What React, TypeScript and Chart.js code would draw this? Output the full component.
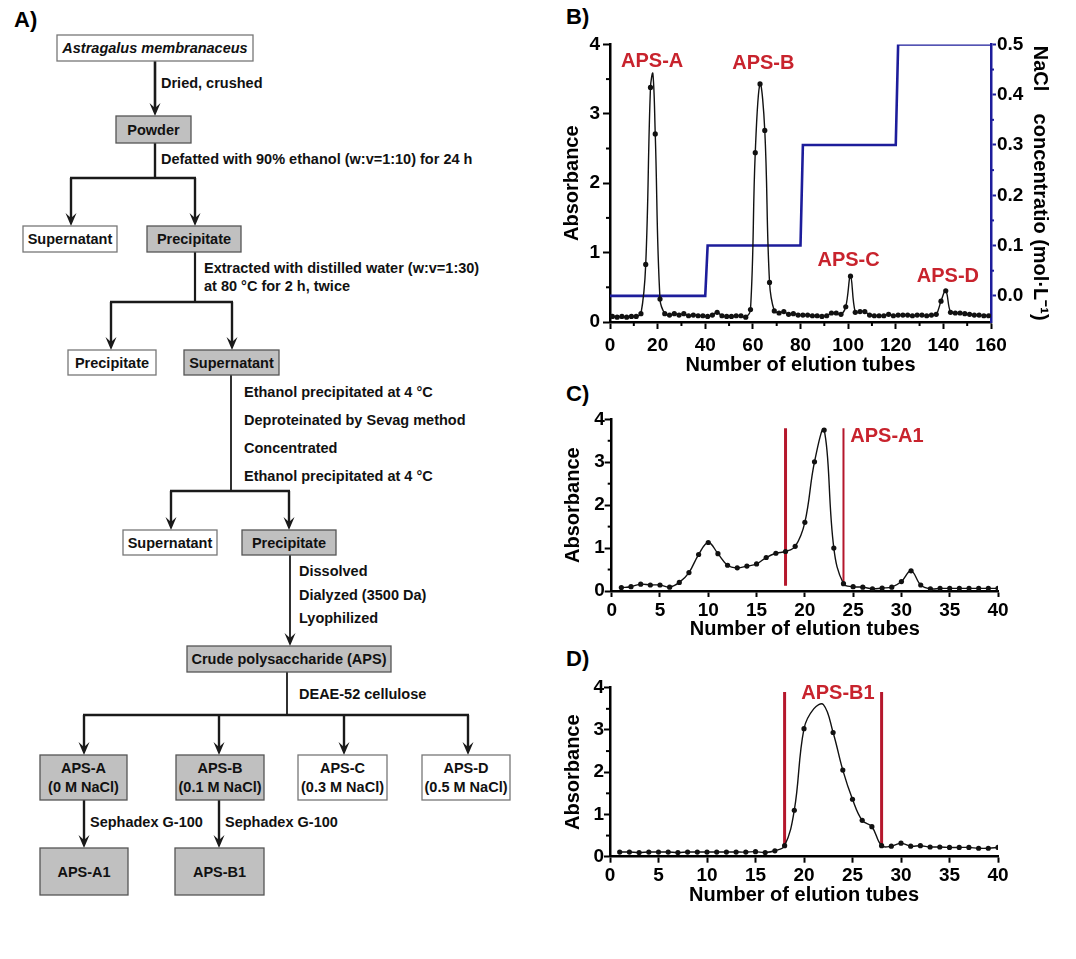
import React, { useEffect, useRef } from 'react';
import { Chart, registerables } from 'chart.js';

Chart.register(...registerables);

const FONT = "'Liberation Sans', Arial, Helvetica, sans-serif";

// ---------------- Panel B data ----------------
const tubesB = [1,3,5,7,9,11,13,15,17,18,19,21,23,25,27,29,31,33,35,37,39,41,43,45,47,49,51,53,55,57,59,61,63,65,67,69,71,73,75,77,79,81,83,85,87,89,91,93,95,97,99,101,103,105,107,109,111,113,115,117,119,121,123,125,127,129,131,133,135,137,139,141,143,145,147,149,151,153,155,157,159];
const absB = [0.08,0.07,0.08,0.07,0.08,0.08,0.12,0.83,3.38,3.58,2.71,0.33,0.12,0.10,0.12,0.10,0.12,0.09,0.10,0.09,0.09,0.08,0.10,0.14,0.09,0.08,0.08,0.09,0.09,0.07,0.18,2.44,3.43,2.76,0.57,0.16,0.13,0.15,0.11,0.12,0.10,0.10,0.10,0.09,0.09,0.08,0.09,0.13,0.13,0.11,0.22,0.66,0.14,0.15,0.15,0.10,0.09,0.09,0.09,0.11,0.09,0.10,0.10,0.10,0.09,0.10,0.10,0.09,0.10,0.11,0.30,0.45,0.14,0.13,0.13,0.12,0.11,0.10,0.10,0.09,0.09];
const unmarkedB = [18];
const naclTubes = [0, 40, 41, 80, 81, 120, 121, 160];
const naclConc = [0, 0, 0.1, 0.1, 0.3, 0.3, 0.5, 0.5];
const naclTicks = [0, 0.1, 0.2, 0.3, 0.4, 0.5];
const peakNamesB = ['APS-A', 'APS-B', 'APS-C', 'APS-D'];
const peakXB = [17.7, 64.4, 100.2, 141.9];
const peakYB = [3.76, 3.73, 0.89, 0.66];

// ---------------- Panel C data ----------------
const tubesC = [1,2,3,4,5,6,7,8,9,10,11,12,13,14,15,16,17,18,19,20,21,22,23,24,25,26,27,28,29,30,31,32,33,34,35,36,37,38,39,40];
const absC = [0.08,0.10,0.16,0.14,0.14,0.09,0.20,0.43,0.85,1.13,0.87,0.60,0.54,0.58,0.63,0.78,0.88,0.92,1.04,1.60,3.01,3.75,1.00,0.17,0.10,0.09,0.05,0.07,0.09,0.22,0.47,0.14,0.05,0.06,0.06,0.06,0.06,0.06,0.06,0.06];
const cutTubesC = [18, 24];
const cutLowC = 0.12;
const cutHighC = 3.79;
const peakNamesC = ['APS-A1'];
const peakXC = [28.5];
const peakYC = [3.6];

// ---------------- Panel D data ----------------
const tubesD = [1,2,3,4,5,6,7,8,9,10,11,12,13,14,15,16,17,18,19,20,21,22,23,24,25,26,27,28,29,30,31,32,33,34,35,36,37,38,39,40];
const absD = [0.11,0.11,0.10,0.11,0.11,0.11,0.10,0.11,0.11,0.11,0.11,0.11,0.11,0.11,0.12,0.10,0.14,0.26,1.10,3.03,3.50,3.60,2.94,2.05,1.36,0.86,0.71,0.26,0.25,0.32,0.25,0.26,0.23,0.23,0.22,0.22,0.22,0.20,0.20,0.22];
const unmarkedD = [21, 22];
const cutTubesD = [18, 28];
const cutLowD = 0.24;
const cutHighD = 3.9;
const peakNamesD = ['APS-B1'];
const peakXD = [23.5];
const peakYD = [3.87];

// ---------------- Flowchart (panel A) ----------------
type Box = { x: number; y: number; w: number; h: number; fill: boolean; lines: string[]; italic?: boolean };
const flowBoxes: Box[] = [
  { x: 57, y: 35, w: 196, h: 26, fill: false, lines: ['Astragalus membranaceus'], italic: true },
  { x: 116, y: 116, w: 75, h: 27, fill: true, lines: ['Powder'] },
  { x: 23, y: 226, w: 94, h: 26, fill: false, lines: ['Supernatant'] },
  { x: 147, y: 226, w: 94, h: 26, fill: true, lines: ['Precipitate'] },
  { x: 68, y: 350, w: 88, h: 25, fill: false, lines: ['Precipitate'] },
  { x: 184, y: 350, w: 95, h: 25, fill: true, lines: ['Supernatant'] },
  { x: 123, y: 530, w: 94, h: 25, fill: false, lines: ['Supernatant'] },
  { x: 242, y: 530, w: 94, h: 25, fill: true, lines: ['Precipitate'] },
  { x: 187, y: 646, w: 204, h: 26, fill: true, lines: ['Crude polysaccharide (APS)'] },
  { x: 40, y: 755, w: 87, h: 45, fill: true, lines: ['APS-A', '(0 M NaCl)'] },
  { x: 176, y: 755, w: 88, h: 45, fill: true, lines: ['APS-B', '(0.1 M NaCl)'] },
  { x: 298, y: 755, w: 89, h: 45, fill: false, lines: ['APS-C', '(0.3 M NaCl)'] },
  { x: 422, y: 755, w: 88, h: 45, fill: false, lines: ['APS-D', '(0.5 M NaCl)'] },
  { x: 40, y: 848, w: 88, h: 47, fill: true, lines: ['APS-A1'] },
  { x: 175, y: 848, w: 89, h: 47, fill: true, lines: ['APS-B1'] },
];
const flowLines: number[][] = [
  [155, 143, 155, 178, 2.4], [70, 178, 196, 178, 2.6], [195, 252, 195, 302, 2.2],
  [110, 302, 233, 302, 2.6], [231, 375, 231, 491, 1.8], [170, 491, 290, 491, 2.6],
  [287, 672, 287, 715, 1.8], [83, 715, 469, 715, 2.6],
];
const flowArrows: number[][] = [
  [155, 61, 116, 2.6], [71, 178, 226, 2.4], [195, 178, 226, 2.4],
  [111, 302, 350, 2.4], [232, 302, 350, 2.4], [171, 491, 530, 2.4], [289, 491, 530, 2.4],
  [290, 555, 646, 1.8], [84, 715, 755, 2.4], [219, 715, 755, 2.4], [344, 715, 755, 2.4],
  [468, 715, 755, 2.4], [84, 800, 848, 2.4], [219, 800, 848, 2.4],
];
const flowTexts: [number, number, string][] = [
  [161, 83, 'Dried, crushed'],
  [161, 159, 'Defatted with 90% ethanol (w:v=1:10) for 24 h'],
  [204, 268, 'Extracted with distilled water (w:v=1:30)'],
  [204, 286, 'at 80 °C for 2 h, twice'],
  [244, 392, 'Ethanol precipitated at 4 °C'],
  [244, 420, 'Deproteinated by Sevag method'],
  [244, 448, 'Concentrated'],
  [244, 476, 'Ethanol precipitated at 4 °C'],
  [299, 571, 'Dissolved'],
  [299, 595, 'Dialyzed (3500 Da)'],
  [299, 618, 'Lyophilized'],
  [299, 694, 'DEAE-52 cellulose'],
  [90, 822, 'Sephadex G-100'],
  [225, 822, 'Sephadex G-100'],
];

// ---------------- styles ----------------
const LINE_BLACK = '#111111';
const NACL_BLUE = '#1d1d9b';
const CUT_RED = '#b5172c';
const LABEL_RED = '#c8232d';
const BOX_GRAY = '#c0c0c0';

function pts(xs: number[], ys: number[]) {
  return xs.map((x, i) => ({ x, y: ys[i] }));
}

function minorPlugin(specs: { id: string; step: number; color: string; len: number }[]) {
  return {
    id: 'minorTicks',
    afterDraw(chart: any) {
      const ctx = chart.ctx;
      ctx.save();
      specs.forEach((s) => {
        const sc = chart.scales[s.id];
        ctx.strokeStyle = s.color;
        ctx.lineWidth = 2;
        const start = Math.ceil(sc.min / s.step);
        for (let i = start; i * s.step <= sc.max + 1e-9; i++) {
          if (i % 2 === 0) continue;
          const v = i * s.step;
          if (v < 0) continue;
          const p = sc.getPixelForValue(v);
          ctx.beginPath();
          if (sc.isHorizontal()) {
            ctx.moveTo(p, sc.top);
            ctx.lineTo(p, sc.top + s.len);
          } else if (sc.position === 'left') {
            ctx.moveTo(sc.right, p);
            ctx.lineTo(sc.right - s.len, p);
          } else {
            ctx.moveTo(sc.left, p);
            ctx.lineTo(sc.left + s.len, p);
          }
          ctx.stroke();
        }
      });
      ctx.restore();
    },
  };
}

function labelPlugin(texts: string[], xs: number[], ys: number[]) {
  return {
    id: 'peakLabels',
    afterDatasetsDraw(chart: any) {
      const ctx = chart.ctx;
      const sx = chart.scales.x;
      const sy = chart.scales.y;
      ctx.save();
      ctx.font = `bold 20px ${FONT}`;
      ctx.fillStyle = LABEL_RED;
      ctx.textAlign = 'center';
      ctx.textBaseline = 'middle';
      texts.forEach((t, i) => ctx.fillText(t, sx.getPixelForValue(xs[i]), sy.getPixelForValue(ys[i])));
      ctx.restore();
    },
  };
}

type AxisOpt = {
  title: string; min: number; max: number; step: number; size: number; tickLen: number; pad: number;
  titlePad: number; position?: string; color?: string; ticks?: number[]; decimals?: number; titleSize?: number;
};

function yAxis(o: AxisOpt) {
  return {
    type: 'linear',
    position: o.position || 'left',
    min: o.min,
    max: o.max,
    afterFit: (s: any) => { s.width = o.size; },
    afterBuildTicks: o.ticks ? (s: any) => { s.ticks = o.ticks!.map((v) => ({ value: v })); } : undefined,
    ticks: {
      stepSize: o.step, padding: o.pad, color: '#000',
      font: { family: FONT, size: 19, weight: 'bold' },
      callback: (v: any) => Number(v).toFixed(o.decimals || 0),
    },
    grid: { drawOnChartArea: false, drawTicks: true, tickLength: o.tickLen, tickWidth: 2, tickColor: o.color || '#000', color: o.color || '#000' },
    border: { display: true, color: o.color || '#000', width: 2.5 },
    title: {
      display: true, text: o.title, color: '#000',
      font: { family: FONT, size: o.titleSize || 20, weight: 'bold' },
      padding: { top: o.titlePad, bottom: 0 },
    },
  };
}

function xAxis(o: AxisOpt) {
  return {
    type: 'linear',
    position: 'bottom',
    min: o.min,
    max: o.max,
    afterFit: (s: any) => { s.height = o.size; },
    ticks: {
      stepSize: o.step, padding: o.pad, color: '#000', maxRotation: 0, autoSkip: false,
      font: { family: FONT, size: 19, weight: 'bold' },
    },
    grid: { drawOnChartArea: false, drawTicks: true, tickLength: o.tickLen, tickWidth: 2, tickColor: '#000', color: '#000' },
    border: { display: true, color: '#000', width: 2.5 },
    title: {
      display: true, text: o.title, color: '#000',
      font: { family: FONT, size: 20, weight: 'bold' },
      padding: { top: 0, bottom: o.titlePad },
    },
  };
}

function absDataset(xs: number[], ys: number[], unmarked: number[]) {
  return {
    data: pts(xs, ys),
    showLine: true,
    borderColor: LINE_BLACK,
    borderWidth: 1.4,
    tension: 0.4,
    pointRadius: (c: any) => (c.raw && unmarked.includes(c.raw.x) ? 0 : 2.6),
    pointBackgroundColor: LINE_BLACK,
    pointBorderWidth: 0,
    yAxisID: 'y',
  };
}

function cutDatasets(tubes: number[], lo: number, hi: number, widths: number[]) {
  return tubes.map((t, i) => ({
    data: [{ x: t, y: lo }, { x: t, y: hi }],
    showLine: true,
    borderColor: CUT_RED,
    borderWidth: widths[i],
    pointRadius: 0,
    tension: 0,
    yAxisID: 'y',
  }));
}

const commonOpts = (padTop: number, padRight: number) => ({
  responsive: false,
  animation: false,
  events: [],
  layout: { autoPadding: false, padding: { top: padTop, right: padRight, bottom: 0, left: 0 } },
  plugins: { legend: { display: false }, tooltip: { enabled: false } },
});

function configB() {
  return {
    type: 'scatter',
    data: {
      datasets: [
        absDataset(tubesB, absB, unmarkedB),
        {
          data: pts(naclTubes, naclConc), showLine: true, borderColor: NACL_BLUE, borderWidth: 2.6,
          pointRadius: 0, tension: 0, yAxisID: 'y2',
        },
      ],
    },
    options: {
      ...commonOpts(14, 0),
      scales: {
        x: xAxis({ title: 'Number of elution tubes', min: 0, max: 160, step: 20, size: 58, tickLen: 7, pad: 5, titlePad: 3 }),
        y: yAxis({ title: 'Absorbance', min: 0, max: 4, step: 1, size: 50, tickLen: 7, pad: 3, titlePad: 0 }),
        y2: yAxis({
          title: 'NaCl    concentratio (mol·L⁻¹)', min: -0.052, max: 0.5, step: 0.1, size: 85, tickLen: 5, pad: 1,
          titlePad: 24, position: 'right', color: NACL_BLUE, ticks: naclTicks, decimals: 1, titleSize: 20,
        }),
      },
    },
    plugins: [
      minorPlugin([
        { id: 'x', step: 10, color: '#000', len: 4 },
        { id: 'y', step: 0.5, color: '#000', len: 4 },
        { id: 'y2', step: 0.05, color: NACL_BLUE, len: 3 },
      ]),
      labelPlugin(peakNamesB, peakXB, peakYB),
    ],
  };
}

function configCD(xs: number[], ys: number[], unmarked: number[], cuts: number[], lo: number, hi: number, widths: number[],
  names: string[], lx: number[], ly: number[], padTop: number, leftW: number, xH: number, xPad: number, titlePad: number, yTickLen: number) {
  return {
    type: 'scatter',
    data: { datasets: [absDataset(xs, ys, unmarked), ...cutDatasets(cuts, lo, hi, widths)] },
    options: {
      ...commonOpts(padTop, 78),
      scales: {
        x: xAxis({ title: 'Number of elution tubes', min: 0, max: 40, step: 5, size: xH, tickLen: 6, pad: xPad, titlePad }),
        y: yAxis({ title: 'Absorbance', min: 0, max: 4, step: 1, size: leftW, tickLen: yTickLen, pad: 0, titlePad: 1 }),
      },
    },
    plugins: [
      minorPlugin([{ id: 'y', step: 0.5, color: '#000', len: 4 }]),
      labelPlugin(names, lx, ly),
    ],
  };
}

function ChartCanvas({ left, top, width, height, build }: { left: number; top: number; width: number; height: number; build: () => any }) {
  const ref = useRef<HTMLCanvasElement>(null);
  useEffect(() => {
    const chart = new Chart(ref.current as HTMLCanvasElement, build());
    return () => chart.destroy();
  }, []);
  return <canvas ref={ref} width={width} height={height} style={{ position: 'absolute', left, top, width, height }} />;
}

function Flowchart() {
  return (
    <svg width={560} height={959} style={{ position: 'absolute', left: 0, top: 0 }} fontFamily={FONT}>
      {flowLines.map(([x1, y1, x2, y2, w], i) => (
        <line key={'l' + i} x1={x1} y1={y1} x2={x2} y2={y2} stroke="#1a1a1a" strokeWidth={w} />
      ))}
      {flowArrows.map(([x, y1, y2, w], i) => (
        <g key={'a' + i}>
          <line x1={x} y1={y1} x2={x} y2={y2 - 7} stroke="#1a1a1a" strokeWidth={w} />
          <polygon points={`${x},${y2} ${x - 5.5},${y2 - 13} ${x},${y2 - 8} ${x + 5.5},${y2 - 13}`} fill="#1a1a1a" />
        </g>
      ))}
      {flowBoxes.map((b, i) => (
        <g key={'b' + i}>
          <rect x={b.x} y={b.y} width={b.w} height={b.h} fill={b.fill ? BOX_GRAY : '#ffffff'} stroke={b.fill ? '#555' : '#777'} strokeWidth={1.3} />
          {b.lines.map((t, j) => (
            <text key={j} x={b.x + b.w / 2} y={b.y + b.h / 2 + (b.lines.length === 2 ? (j === 0 ? -9.5 : 9.5) : 0)}
              textAnchor="middle" dominantBaseline="central" fontWeight="bold" fontSize={14.5}
              fontStyle={b.italic ? 'italic' : 'normal'} fill="#111">{t}</text>
          ))}
        </g>
      ))}
      {flowTexts.map(([x, y, t], i) => (
        <text key={'t' + i} x={x} y={y} dominantBaseline="central" fontWeight="bold" fontSize={14.5} fill="#111">{t}</text>
      ))}
    </svg>
  );
}

const panelStyle = (left: number, top: number): React.CSSProperties => ({
  position: 'absolute', left, top, fontFamily: FONT, fontWeight: 'bold', fontSize: 22, lineHeight: 1, color: '#000',
});

export default function App() {
  return (
    <div style={{ position: 'absolute', left: 0, top: 0, width: 1076, height: 959, background: '#fff', overflow: 'hidden' }}>
      <Flowchart />
      <div style={panelStyle(14, 9)}>A)</div>
      <div style={panelStyle(566, 6)}>B)</div>
      <div style={panelStyle(566, 383)}>C)</div>
      <div style={panelStyle(566, 648)}>D)</div>
      <ChartCanvas left={560} top={30} width={516} height={350} build={configB} />
      <ChartCanvas left={560} top={400} width={516} height={250}
        build={() => configCD(tubesC, absC, [], cutTubesC, cutLowC, cutHighC, [3, 2], peakNamesC, peakXC, peakYC, 19.3, 51.7, 59, 2, 9, 7)} />
      <ChartCanvas left={560} top={665} width={516} height={250}
        build={() => configCD(tubesD, absD, unmarkedD, cutTubesD, cutLowD, cutHighD, [3, 3], peakNamesD, peakXD, peakYD, 22.7, 50, 58.3, 2, 8, 6)} />
    </div>
  );
}
